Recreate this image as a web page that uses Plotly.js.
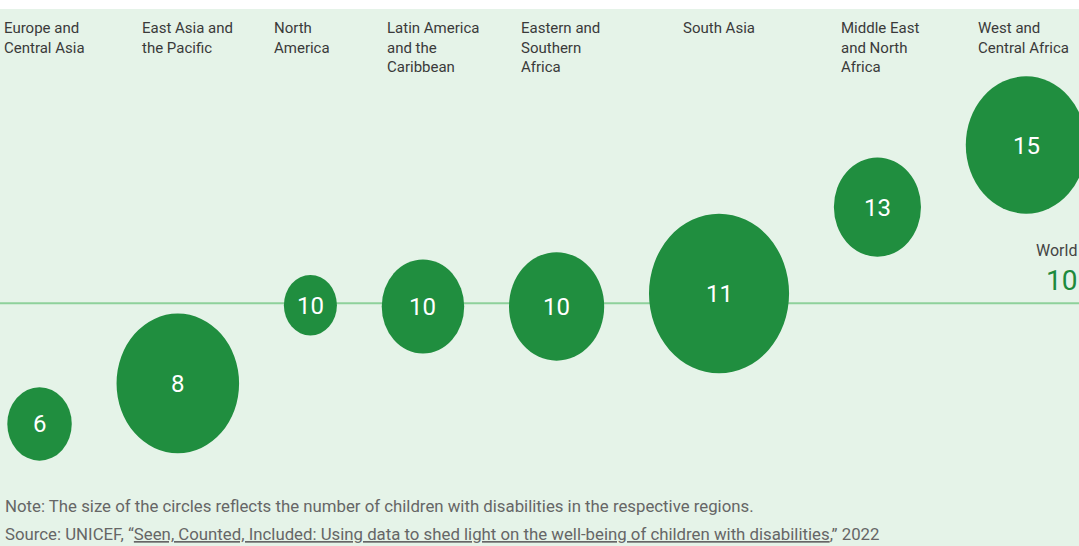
<!DOCTYPE html>
<html>
<head>
<meta charset="utf-8">
<script src="https://cdn.plot.ly/plotly-3.0.1.min.js"></script>
<style>
  html, body { margin: 0; padding: 0; background: #ffffff; }
  #chart { width: 1079px; height: 546px; }
</style>
</head>
<body>
<div id="chart"></div>
<script>
// ---- Data ----
const regions = [
  "Europe and<br>Central Asia",
  "East Asia and<br>the Pacific",
  "North<br>America",
  "Latin America<br>and the<br>Caribbean",
  "Eastern and<br>Southern<br>Africa",
  "South Asia",
  "Middle East<br>and North<br>Africa",
  "West and<br>Central Africa"
];
// prevalence of disability among children (%), estimated from circle heights
const prevalence = [6.19, 7.47, 9.94, 9.9, 9.9, 10.31, 13.04, 15.0];
// labels printed in the circles
const prevalenceLabels = ["6", "8", "10", "10", "10", "11", "13", "15"];
// number of children with disabilities (millions), estimated from circle areas
const childrenMillions = [12.7, 45.9, 8.6, 20.8, 27.7, 60.0, 23.2, 44.4];
const worldValue = 10;
const worldLabel = "10";

const noteText = "Note: The size of the circles reflects the number of children with disabilities in the respective regions.";
const sourceText = "Source: UNICEF, \u201c<span style=\"text-decoration:underline\">Seen, Counted, Included: Using data to shed light on the well-being of children with disabilities</span>,\u201d 2022";

// ---- Layout constants ----
const W = 1079, H = 546, TOP = 9;
const diamPerSqrt = 19.31;   // px diameter per sqrt(million)
const aspect = 1.14;         // circles appear vertically stretched
const gap = 44.8;            // horizontal gap between circles
const startX = 7.3;
const green = "#208e3f";
const bg = "#e5f3e8";
const font = "Roboto, 'Noto Sans', sans-serif";
const labelSize = 15;

// circle sizes and packed x centres derived from the data
const diam = childrenMillions.map(n => diamPerSqrt * Math.sqrt(n));
const widths = diam.map(d => d / Math.sqrt(aspect));
const heights = diam.map(d => d * Math.sqrt(aspect));
const centers = [];
let cursor = startX;
widths.forEach(w => { centers.push(cursor + w / 2); cursor += w + gap; });

// y scale: 10 at px 303.3, 31.66 px per unit
const pxPerUnit = 31.66, worldPx = 303.3;
const yTop = worldValue + (worldPx - TOP) / pxPerUnit;
const yBot = worldValue - (H - worldPx) / pxPerUnit;
const paperY = p => (H - p) / (H - TOP);

// text width measuring for keeping labels inside the frame
const ctx = document.createElement("canvas").getContext("2d");
ctx.font = labelSize + "px Roboto";
const textWidth = s => Math.max(...s.split("<br>").map(l => ctx.measureText(l).width));

const shapes = [{
  type: "line", xref: "paper", yref: "y", x0: 0, x1: 1, y0: worldValue, y1: worldValue,
  line: { color: "#8ed19b", width: 2 }, layer: "below"
}];
centers.forEach((cx, i) => {
  shapes.push({
    type: "circle", xref: "x", yref: "y", layer: "below",
    xsizemode: "pixel", ysizemode: "pixel",
    xanchor: cx, yanchor: prevalence[i],
    x0: -widths[i] / 2, x1: widths[i] / 2,
    y0: -heights[i] / 2, y1: heights[i] / 2,
    fillcolor: green, line: { width: 0 }
  });
});

const annotations = regions.map((r, i) => ({
  text: r, xref: "x", yref: "paper",
  x: Math.min(centers[i] - 38, W - 12 - textWidth(r)),
  y: paperY(17),
  xanchor: "left", yanchor: "top", align: "left", showarrow: false,
  font: { family: font, size: labelSize, color: "#3a3a3a" }
}));
// values inside the circles
prevalenceLabels.forEach((t, i) => annotations.push({
  text: t, xref: "x", yref: "y", x: centers[i], y: prevalence[i], yshift: -0.5,
  xanchor: "center", yanchor: "middle", showarrow: false,
  font: { family: font, size: 24, color: "#ffffff" }
}));
annotations.push(
  { text: "World", xref: "paper", yref: "paper", x: 1, y: paperY(251), xanchor: "right", yanchor: "middle",
    showarrow: false, font: { family: font, size: 16, color: "#444444" } },
  { text: worldLabel, xref: "paper", yref: "paper", x: 1, y: paperY(280), xanchor: "right", yanchor: "middle",
    showarrow: false, font: { family: font, size: 28, color: "#1e8a3c" } },
  { text: noteText, xref: "paper", yref: "paper", x: 0, xshift: 3, y: paperY(506), xanchor: "left", yanchor: "middle",
    showarrow: false, font: { family: font, size: 16.8, color: "#666666" } },
  { text: sourceText, xref: "paper", yref: "paper", x: 0, xshift: 3, y: paperY(534), xanchor: "left", yanchor: "middle",
    showarrow: false, font: { family: font, size: 16.8, color: "#666666" } }
);

// invisible anchor trace so the circles' data coordinates come from the data arrays
const trace = {
  type: "scatter", mode: "markers", x: centers, y: prevalence,
  marker: { size: 1, opacity: 0 }, hoverinfo: "skip", showlegend: false
};

const layout = {
  width: W, height: H,
  margin: { l: 0, r: 0, t: TOP, b: 0, pad: 0 },
  paper_bgcolor: "#ffffff", plot_bgcolor: bg,
  xaxis: { range: [0, W], visible: false, fixedrange: true },
  yaxis: { range: [yBot, yTop], visible: false, fixedrange: true },
  shapes: shapes, annotations: annotations, showlegend: false
};

Plotly.newPlot("chart", [trace], layout, { displayModeBar: false, staticPlot: true });
</script>
</body>
</html>
